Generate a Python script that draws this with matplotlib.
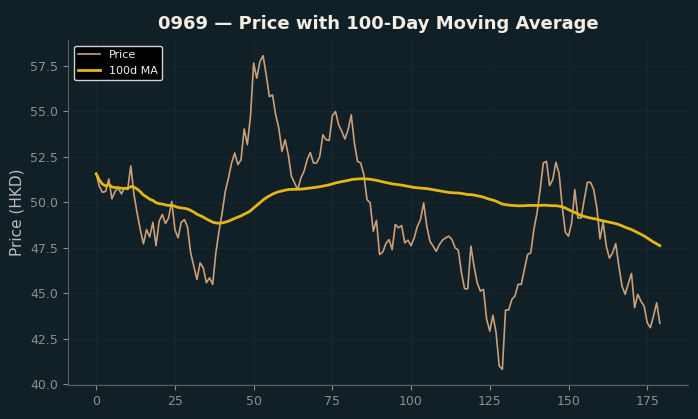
import numpy as np
import pandas as pd
import matplotlib
matplotlib.use("Agg")
import matplotlib.pyplot as plt

# closing prices (day 0..179)
price = [
    51.57, 50.88, 50.55, 50.60, 51.28, 50.19, 50.60, 50.79, 50.46, 50.79,
    50.70, 52.00, 50.42, 49.42, 48.50, 47.72, 48.50, 48.10, 48.90, 47.62,
    48.96, 49.33, 48.83, 49.14, 50.05, 48.50, 48.05, 48.90, 49.05, 48.65,
    47.22, 46.49, 45.76, 46.67, 46.40, 45.58, 45.85, 45.49, 47.22, 48.41,
    49.42, 50.60, 51.33, 52.16, 52.71, 52.07, 52.34, 54.03, 53.17, 54.72,
    57.65, 56.82, 57.74, 58.06, 57.00, 55.81, 55.90, 54.81, 54.08, 52.80,
    53.44, 52.62, 51.43, 51.06, 50.70, 51.33, 51.70, 52.34, 52.74, 52.16,
    52.16, 52.52, 53.71, 53.44, 53.40, 54.76, 54.99, 54.26, 53.90, 53.48,
    53.99, 54.81, 53.26, 52.25, 52.16, 51.52, 50.15, 49.97, 48.41, 49.01,
    47.13, 47.26, 47.73, 47.95, 47.40, 48.78, 48.60, 48.72, 47.77, 47.92,
    47.62, 48.05, 48.68, 49.05, 49.97, 48.68, 47.86, 47.59, 47.31, 47.68,
    47.92, 48.05, 48.14, 47.95, 47.50, 47.37, 46.13, 45.25, 45.25, 47.59,
    46.49, 45.58, 45.12, 45.21, 43.57, 42.92, 43.79, 42.84, 41.00, 40.82,
    44.08, 44.08, 44.66, 44.85, 45.49, 45.49, 46.31, 47.13, 47.22, 48.50,
    49.42, 50.70, 52.16, 52.25, 50.92, 51.25, 52.20, 51.60, 49.78, 48.35,
    48.14, 48.87, 50.70, 49.14, 49.14, 50.15, 51.10, 51.10, 50.70, 49.69,
    47.99, 48.90, 47.59, 46.93, 47.22, 47.73, 46.49, 45.39, 44.94, 45.54,
    46.09, 44.21, 44.94, 44.57, 44.30, 43.38, 43.11, 43.75, 44.48, 43.35,
]
ticker = "0969"
window = 100

days = np.arange(len(price))
ma = pd.Series(price).rolling(window, min_periods=1).mean()

bg = "#111f26"
fig, ax = plt.subplots(figsize=(6.98, 4.19), dpi=100)
fig.patch.set_facecolor(bg)
ax.set_facecolor(bg)
fig.subplots_adjust(left=68/698, right=688/698, top=1-40/419, bottom=1-385/419)

ax.plot(days, price, color="#c9a07a", lw=1.2, label="Price")
ax.plot(days, ma, color="#e2b716", lw=2.0, label="100d MA")

ax.set_title(f"{ticker} — Price with 100-Day Moving Average", color="#f2eee6",
             fontsize=13, fontweight="bold", pad=8)
ax.set_ylabel("Price (HKD)", color="#b8bcc0", fontsize=11)
ax.tick_params(colors="#8a8f93", labelsize=9)
ax.grid(True, color="#18272e", lw=0.8)
for s in ["top", "right"]:
    ax.spines[s].set_visible(False)
for s in ["left", "bottom"]:
    ax.spines[s].set_color("#5a5f62")

leg = ax.legend(loc="upper left", facecolor="black", edgecolor="#cfd3d6",
                fontsize=8, framealpha=1.0)
for t in leg.get_texts():
    t.set_color("#f0f0f0")

fig.savefig("out.png", facecolor=bg)
